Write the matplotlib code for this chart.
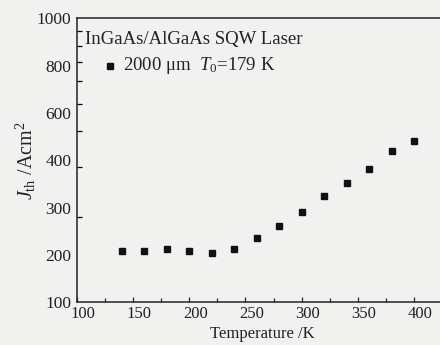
import numpy as np
import matplotlib
matplotlib.use("Agg")
import matplotlib.pyplot as plt
from matplotlib.ticker import FixedLocator, NullFormatter, FixedFormatter
import matplotlib.transforms as mtransforms

# Data
temperature = [140, 160, 180, 200, 220, 240, 260, 280, 300, 320, 340, 360, 380, 400]
jth = [151.6, 151.6, 154.4, 151.6, 148.8, 154.0, 168.0, 186.1, 208.4, 237.3, 263.0, 294.7, 341.0, 368.9]
xtick_vals = [100, 150, 200, 250, 300, 350, 400]
ytick_labels = ["100", "200", "300", "400", "600", "800", "1000"]
series_label = "2000 \u03bcm  $T_0$=179 K"
title_text = "InGaAs/AlGaAs SQW Laser"

plt.rcParams['font.family'] = ['Liberation Serif', 'DejaVu Serif']
plt.rcParams['mathtext.fontset'] = 'custom'
plt.rcParams['mathtext.rm'] = 'Liberation Serif'
plt.rcParams['mathtext.it'] = 'Liberation Serif:italic'

fig = plt.figure(figsize=(4.4, 3.45), dpi=100)
fig.patch.set_facecolor('#f1f1f0')
ax = fig.add_axes([0.1743, 0.1238, 0.844, 0.8232])
ax.set_facecolor('#f1f1f0')

ax.plot(temperature, jth, linestyle='none', marker='s', markersize=5,
        color='#111111', markeredgecolor='#111111')

ax.set_yscale('log')
ax.set_ylim(100, 1000)
ax.set_xlim(100, 430)

# x ticks
ax.xaxis.set_major_locator(FixedLocator(xtick_vals))
ax.xaxis.set_minor_locator(FixedLocator(np.arange(125, 426, 50)))
ax.tick_params(axis='x', which='both', direction='in', length=3.5, width=0.9,
               labelsize=12, pad=2.5, colors='#222222')
ax.tick_params(axis='x', which='minor', length=3.0)
offset = mtransforms.ScaledTranslation(6 / 100, 0, fig.dpi_scale_trans)
for lbl in ax.xaxis.get_majorticklabels():
    lbl.set_transform(lbl.get_transform() + offset)

# y ticks: marks at log positions, labels equally spaced as in reference
label_pos = np.logspace(2, 3, len(ytick_labels))
ax.yaxis.set_major_locator(FixedLocator(label_pos))
ax.yaxis.set_major_formatter(FixedFormatter(ytick_labels))
ax.yaxis.set_minor_locator(FixedLocator(np.arange(200, 1000, 100)))
ax.yaxis.set_minor_formatter(NullFormatter())
ax.tick_params(axis='y', which='major', direction='in', length=0, labelsize=12.5,
               pad=4, colors='#222222')
ax.tick_params(axis='y', which='minor', direction='in', length=3.5, width=0.9)

for side in ['left', 'bottom', 'top']:
    ax.spines[side].set_linewidth(1.1)
    ax.spines[side].set_color('#222222')
ax.spines['right'].set_visible(False)

ax.set_xlabel("Temperature /K", fontsize=12, labelpad=3, color='#222222')
ax.set_ylabel("$J_{\\mathrm{th}}$ /Acm$^2$", fontsize=14.5, labelpad=-1, color='#222222')

ax.text(0.022, 0.925, title_text, transform=ax.transAxes, fontsize=13.5,
        va='center', ha='left', color='#222222')
ax.plot([0.09], [0.832], transform=ax.transAxes, marker='s', markersize=5,
        color='#111111', linestyle='none', clip_on=False)
ax.text(0.125, 0.832, series_label, transform=ax.transAxes, fontsize=13.5,
        va='center', ha='left', color='#222222')

fig.savefig("out.png", dpi=100, facecolor=fig.get_facecolor())
